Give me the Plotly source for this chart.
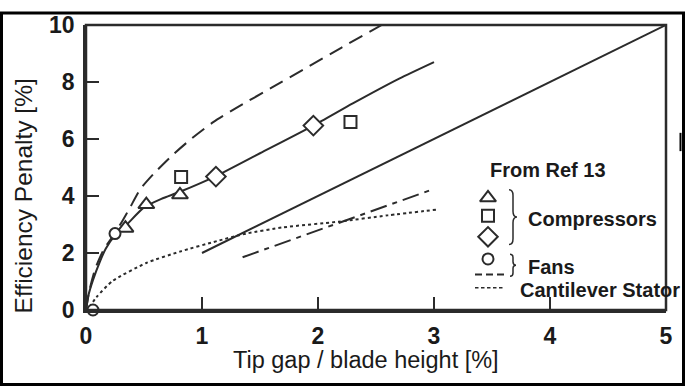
import plotly.graph_objects as go

# ---- data ----------------------------------------------------------------
# Fans correlation (dashed curve)
fan_x = [0, 0.03, 0.08, 0.15, 0.25, 0.31, 0.38, 0.47, 0.6, 0.75, 0.9, 1.1,
         1.3, 1.6, 1.9, 2.2, 2.55]
fan_y = [0, 0.7, 1.45, 2.1, 2.7, 3.1, 3.6, 4.25, 4.85, 5.45, 5.98, 6.6,
         7.1, 7.8, 8.5, 9.2, 10.0]

# Compressor fit (solid curve through the symbols)
comp_x = [0, 0.02, 0.06, 0.12, 0.17, 0.25, 0.34, 0.5, 0.65, 0.81, 1.12,
          1.5, 1.96, 2.3, 2.7, 3.0]
comp_y = [0, 0.5, 1.05, 1.7, 2.15, 2.62, 2.95, 3.6, 3.9, 4.15, 4.7,
          5.5, 6.47, 7.25, 8.12, 8.7]

# Straight solid line
lin_x = [1.0, 5.0]
lin_y = [2.0, 10.0]

# Dash-dot line
dd_x = [1.35, 3.0]
dd_y = [1.85, 4.25]

# Cantilever stator (dotted curve)
cant_x = [0.03, 0.09, 0.23, 0.52, 0.81, 1.13, 1.38, 1.7, 2.18, 2.6, 3.04]
cant_y = [0.1, 0.45, 1.02, 1.65, 2.05, 2.42, 2.68, 2.9, 3.1, 3.32, 3.53]

# Measured points (Ref 13)
tri_x = [0.34, 0.52, 0.81]
tri_y = [2.87, 3.70, 4.04]
sq_x = [0.82, 2.28]
sq_y = [4.67, 6.60]
dia_x = [1.12, 1.96]
dia_y = [4.68, 6.47]
fan_pt_x = [0.06, 0.25]
fan_pt_y = [0.0, 2.68]

x_ticks = [0, 1, 2, 3, 4, 5]
y_ticks = [0, 2, 4, 6, 8, 10]

# ---- styling ---------------------------------------------------------------
W, H = 685, 389
L, R, T, B = 86, 666, 14, 310          # plot area in page pixels
INK = "#2b2b2b"
FONT = "Liberation Sans, Arial, sans-serif"


def px(x):
    """page pixel column -> paper fraction"""
    return (x - L) / (R - L)


def py(y):
    """page pixel row -> paper fraction"""
    return (B - y) / (B - T)


fig = go.Figure()


def curve(x, y, dash, width=2):
    fig.add_trace(go.Scatter(x=x, y=y, mode="lines", showlegend=False,
                             hoverinfo="skip",
                             line=dict(color=INK, width=width, dash=dash,
                                       shape="spline", smoothing=0.6)))


curve(fan_x, fan_y, "15px,8px")
curve(comp_x, comp_y, "solid")
curve(lin_x, lin_y, "solid")
curve(dd_x, dd_y, "17px,6px,5px,6px")
curve(cant_x, cant_y, "3px,3px")


def points(x, y, symbol, size, **kw):
    fig.add_trace(go.Scatter(x=x, y=y, mode="markers", showlegend=False,
                             cliponaxis=False, hoverinfo="skip",
                             marker=dict(symbol=symbol, size=size,
                                         color="white",
                                         line=dict(color=INK, width=2)),
                             **kw))


points(tri_x, tri_y, "triangle-up", 14)
points(sq_x, sq_y, "square", 12)
points(dia_x, dia_y, "diamond", 15)
points(fan_pt_x, fan_pt_y, "circle", 11)

# ---- key (drawn on a pixel-space overlay axis) ----------------------------
key_x = 488
key_syms = [("triangle-up", 193.5, 14), ("square", 212, 12),
            ("diamond", 234, 15), ("circle", 257, 11)]
for sym, ky, sz in key_syms:
    points([key_x], [ky], sym, sz, xaxis="x2", yaxis="y2")

fig.add_trace(go.Scatter(x=[475, 505], y=[273, 273], xaxis="x2", yaxis="y2",
                         mode="lines", showlegend=False, cliponaxis=False,
                         hoverinfo="skip",
                         line=dict(color=INK, width=2, dash="7px,4px")))
fig.add_trace(go.Scatter(x=[475, 505], y=[287, 287], xaxis="x2", yaxis="y2",
                         mode="lines", showlegend=False, cliponaxis=False,
                         hoverinfo="skip",
                         line=dict(color=INK, width=1.5, dash="3.5px,2.5px")))


def brace(x0, top, bot, depth=4, tip=4, r=6):
    mid = (top + bot) / 2
    xs = x0 + depth
    pts = [f"M {px(x0)},{py(top)}",
           f"Q {px(xs)},{py(top)} {px(xs)},{py(top + r)}",
           f"L {px(xs)},{py(mid - r)}",
           f"Q {px(xs)},{py(mid)} {px(xs + tip)},{py(mid)}",
           f"Q {px(xs)},{py(mid)} {px(xs)},{py(mid + r)}",
           f"L {px(xs)},{py(bot - r)}",
           f"Q {px(xs)},{py(bot)} {px(x0)},{py(bot)}"]
    return dict(type="path", xref="paper", yref="paper", path=" ".join(pts),
                line=dict(color=INK, width=1.5))


shapes = [
    # plot box
    dict(type="rect", xref="paper", yref="paper", x0=0, x1=1, y0=0, y1=1,
         line=dict(color=INK, width=2.5), layer="above"),
    brace(509, 185, 242, r=6),
    brace(510, 252, 275, depth=3, tip=3, r=3.5),
    # outer frame
    dict(type="rect", xref="paper", yref="paper",
         x0=px(1.5), x1=px(W - 1.5), y0=py(1.5), y1=py(H - 1.5),
         line=dict(color="black", width=3)),
    # small mark at the right edge
    dict(type="line", xref="paper", yref="paper", x0=px(680.5), x1=px(680.5),
         y0=py(126), y1=py(145), line=dict(color="black", width=2)),
]


def label(text, x, y, size, bold=True, anchor="left", angle=0):
    return dict(text=text, xref="paper", yref="paper", x=px(x), y=py(y),
                showarrow=False, xanchor=anchor, yanchor="middle",
                textangle=angle,
                font=dict(family=FONT, size=size, color="#1a1a1a",
                          weight="bold" if bold else "normal"))


annotations = [
    label("From Ref 13", 488, 164.5, 20),
    label("Compressors", 526, 215, 20),
    label("Fans", 526, 265.5, 20),
    label("Cantilever Stator", 518, 289, 20),
    label("Tip gap / blade height [%]", 366, 362, 23.5, bold=False,
          anchor="center"),
    label("Efficiency Penalty [%]", 23, 192, 24.5, bold=False,
          anchor="center", angle=-90),
]

axis_common = dict(showgrid=False, zeroline=False, showline=True,
                   linecolor=INK, linewidth=2.5, mirror=False,
                   ticks="inside", ticklen=13, tickwidth=2, tickcolor=INK,
                   tickfont=dict(family=FONT, size=23, color="#1a1a1a",
                                 weight="bold"))

fig.update_layout(
    width=W, height=H,
    margin=dict(l=L, r=W - R, t=T, b=H - B),
    paper_bgcolor="white", plot_bgcolor="white",
    xaxis=dict(range=[0, 5], tickvals=x_ticks, ticklabelstandoff=4,
               **axis_common),
    yaxis=dict(range=[0, 10], tickvals=y_ticks, ticklabelstandoff=4,
               **axis_common),
    xaxis2=dict(overlaying="x", range=[L, R], visible=False),
    yaxis2=dict(overlaying="y", range=[B, T], visible=False),
    shapes=shapes,
    annotations=annotations,
)

fig.write_html("out.html")
